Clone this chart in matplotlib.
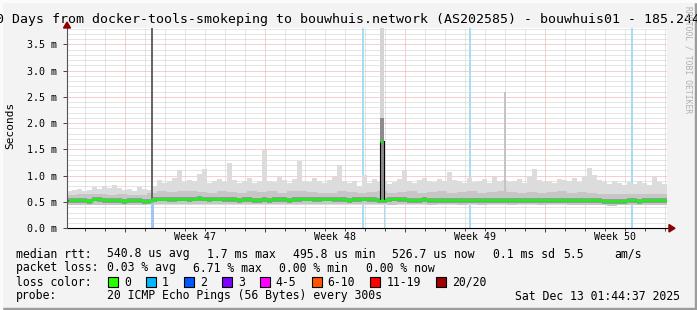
import matplotlib.pyplot as plt
import numpy as np
from matplotlib.patches import Rectangle, Polygon

W, H = 697, 310

title = "30 Days from docker-tools-smokeping to bouwhuis.network (AS202585) - bouwhuis01 - 185.244"
week_labels = ["Week 47", "Week 48", "Week 49", "Week 50"]
week_centers = [6.375, 13.375, 20.375, 27.375]
week_starts = [2.875, 9.875, 16.875, 23.875]

# 6 hour steps over 30 days, values in ms
median = [
    0.54, 0.54, 0.53, 0.53, 0.51, 0.56, 0.55, 0.54, 0.54, 0.53,
    0.53, 0.52, 0.54, 0.53, 0.53, 0.52, 0.52, 0.55, 0.56, 0.56,
    0.55, 0.55, 0.56, 0.56, 0.55, 0.56, 0.57, 0.56, 0.55, 0.56,
    0.56, 0.55, 0.55, 0.55, 0.54, 0.55, 0.55, 0.54, 0.54, 0.55,
    0.54, 0.55, 0.55, 0.55, 0.54, 0.55, 0.55, 0.56, 0.56, 0.55,
    0.55, 0.56, 0.56, 0.55, 0.55, 0.55, 0.54, 0.55, 0.55, 0.56,
    0.55, 0.55, 0.54, 0.54, 0.55, 0.56, 0.55, 0.55, 0.54, 0.54,
    0.54, 0.55, 0.54, 0.54, 0.53, 0.54, 0.54, 0.54, 0.53, 0.53,
    0.54, 0.54, 0.53, 0.54, 0.54, 0.54, 0.53, 0.54, 0.54, 0.54,
    0.53, 0.53, 0.54, 0.54, 0.54, 0.53, 0.54, 0.54, 0.54, 0.53,
    0.54, 0.54, 0.53, 0.54, 0.54, 0.53, 0.53, 0.52, 0.52, 0.51,
    0.52, 0.52, 0.53, 0.53, 0.52, 0.53, 0.53, 0.53, 0.53, 0.53,
]
smoke_hi = [
    0.70, 0.72, 0.74, 0.70, 0.72, 0.78, 0.74, 0.80, 0.76, 0.82,
    0.76, 0.72, 0.74, 0.70, 0.78, 0.74, 0.72, 0.80, 0.92, 0.86,
    0.90, 0.96, 1.10, 0.88, 0.92, 0.90, 1.04, 1.12, 0.86, 0.90,
    0.94, 0.88, 1.24, 0.92, 0.86, 0.90, 0.96, 0.86, 0.90, 1.49,
    0.90, 0.88, 1.00, 0.92, 0.86, 0.94, 1.28, 0.90, 0.88, 0.96,
    0.90, 0.86, 0.92, 0.98, 1.20, 0.90, 0.86, 0.90, 0.80, 1.02,
    0.86, 0.94, 0.88, 0.90, 0.84, 0.88, 0.94, 1.10, 0.90, 0.86,
    0.92, 0.96, 0.90, 0.88, 0.94, 0.90, 1.08, 0.92, 0.90, 0.86,
    0.96, 0.88, 0.90, 0.94, 0.86, 0.98, 0.90, 0.92, 0.88, 0.90,
    0.94, 0.86, 1.00, 1.12, 0.92, 0.88, 0.90, 0.86, 0.94, 0.92,
    0.90, 0.96, 0.88, 1.00, 1.14, 1.02, 0.92, 0.88, 0.84, 0.90,
    0.86, 0.82, 0.88, 0.84, 0.90, 0.86, 0.82, 1.00, 0.88, 0.84,
]
# 12 hour steps
smoke_mid = [
    0.64, 0.66, 0.65, 0.66, 0.64, 0.65, 0.64, 0.63, 0.68, 0.70,
    0.69, 0.70, 0.71, 0.69, 0.68, 0.70, 0.69, 0.68, 0.70, 0.69,
    0.70, 0.68, 0.70, 0.71, 0.69, 0.68, 0.68, 0.70, 0.69, 0.68,
    0.69, 0.70, 0.68, 0.69, 0.70, 0.68, 0.69, 0.70, 0.68, 0.69,
    0.70, 0.68, 0.69, 0.70, 0.69, 0.68, 0.69, 0.68, 0.69, 0.70,
    0.68, 0.69, 0.67, 0.66, 0.66, 0.65, 0.66, 0.66, 0.65, 0.66,
]
smoke_lo = [
    0.45, 0.45, 0.44, 0.45, 0.45, 0.44, 0.45, 0.44, 0.46, 0.46,
    0.46, 0.46, 0.47, 0.46, 0.46, 0.46, 0.46, 0.46, 0.46, 0.46,
    0.46, 0.46, 0.46, 0.47, 0.46, 0.46, 0.46, 0.46, 0.46, 0.46,
    0.46, 0.46, 0.45, 0.46, 0.46, 0.46, 0.45, 0.46, 0.46, 0.45,
    0.46, 0.45, 0.46, 0.46, 0.45, 0.46, 0.46, 0.45, 0.46, 0.46,
    0.45, 0.45, 0.44, 0.44, 0.43, 0.44, 0.44, 0.44, 0.44, 0.44,
]

# single-step events (day, value)
loss_days = [14.8, 20.15, 28.25]
loss2_day = 4.25
spike_day = 4.25
spike2_day = 15.75
spike2_median = 1.66
spike2_dark_top = 2.1
thin_spikes_day = [21.9]
thin_spikes_top = [2.59]

legend_labels = ["0", "1", "2", "3", "4-5", "6-10", "11-19", "20/20"]
legend_colors = ["#26ff00", "#00b8ff", "#0059ff", "#7e00ff", "#ff00ff", "#ff5500", "#ff0000", "#a10000"]

plt.rcParams['font.family'] = ['DejaVu Sans Mono']

fig = plt.figure(figsize=(W / 100, H / 100), dpi=100, facecolor='#f3f3f3')


def px(x, y):
    return x / W, 1 - y / H


top, bot, left, right = 28, 228.3, 67, 667
ax = fig.add_axes([left / W, 1 - bot / H, (right - left) / W, (bot - top) / H])
ax.set_facecolor('white')
ax.set_xlim(0, 30)
ax.set_ylim(0, 3.81)

t6 = 0.125 + 0.25 * np.arange(len(median))
t12 = 0.25 + 0.5 * np.arange(len(smoke_mid))

# grid
ax.set_yticks(np.arange(0, 3.6, 0.5))
ax.set_yticks(np.arange(0, 3.81, 0.1), minor=True)
ax.set_xticks(week_starts)
ax.set_xticks(np.arange(0.875, 30, 1.0), minor=True)
ax.grid(which='minor', color='#cccccc', ls=(0, (1, 1)), lw=0.72, zorder=0)
ax.grid(which='major', color='#f2a0a0', ls=(0, (1, 1)), lw=0.72, zorder=0)
ax.set_axisbelow(True)

ax.set_yticklabels(["%.1f m" % v for v in np.arange(0, 3.6, 0.5)])
ax.set_xticklabels([])
ax.tick_params(axis='y', which='major', length=3, width=0.7, color='#444444', labelsize=7.2, pad=4)
ax.tick_params(axis='y', which='minor', length=0)
ax.tick_params(axis='x', which='major', length=3, width=0.7, color='#444444')
ax.tick_params(axis='x', which='minor', length=2, width=0.7, color='#444444')
for s in ax.spines.values():
    s.set_visible(False)

for d, lab in zip(week_centers, week_labels):
    ax.text(d, -0.17, lab, ha='center', va='center', fontsize=7.2, color='black')

# loss stripes
for d in loss_days:
    ax.axvspan(d - 0.05, d + 0.05, color='#a6dcf4', lw=0, zorder=1)
ax.bar(loss2_day, 0.5, width=0.15, color='#a4c4f4', lw=0, zorder=6)
ax.bar(spike2_day + 0.13, spike2_median - 0.03, width=0.06, color='#a6dcf4', lw=0, zorder=1)

# smoke
ax.bar(t6, np.array(smoke_hi) - 0.44, bottom=0.44, width=0.25, color='#dcdcdc', lw=0, zorder=2)
ax.bar(t12, np.array(smoke_mid) - np.array(smoke_lo), bottom=smoke_lo, width=0.5, color='#c6c6c6', lw=0, zorder=3)
med = np.array(median)
ax.bar(t6, 0.09, bottom=med - 0.05, width=0.25, color='#9a9a9a', lw=0, zorder=4)
ax.bar(t6, 0.04, bottom=med - 0.035, width=0.25, color='#666666', lw=0, zorder=4)
ax.bar(thin_spikes_day, np.array(thin_spikes_top) - 0.6, bottom=0.6, width=0.09, color='#c4c4c4', lw=0, zorder=2)

# spikes
ax.bar(spike_day, 3.81 - 0.53, bottom=0.53, width=0.12, color='#666666', lw=0, zorder=5)
ax.bar(spike2_day, 3.81 - 0.55, bottom=0.55, width=0.2, color='#d4d4d4', lw=0, zorder=5)
ax.bar(spike2_day, spike2_dark_top - 0.55, bottom=0.55, width=0.2, color='#8c8c8c', lw=0, zorder=5)

# median line
ax.step(t6, med, where='mid', color='#333333', lw=0.8, zorder=6)
ax.step(t6, med, where='mid', color='#22ee22', lw=2.0, zorder=7)
ax.plot([spike2_day - 0.08, spike2_day - 0.08, spike2_day + 0.08, spike2_day + 0.08],
        [0.55, spike2_median, spike2_median, 0.55], color='black', lw=0.8, zorder=8)
ax.plot([spike2_day - 0.07, spike2_day + 0.0], [spike2_median, spike2_median], color='#22ee22', lw=1.8, zorder=9)

# axes with arrows
ax.plot([0, 30.2], [0, 0], color='black', lw=0.8, clip_on=False, zorder=10)
ax.plot([0, 0], [0, 3.86], color='#555555', lw=0.8, clip_on=False, zorder=10)
fig.patches.append(Polygon([px(669, 224.5), px(669, 232), px(675, 228.3)], closed=True,
                           transform=fig.transFigure, color='#8b0000'))
fig.patches.append(Polygon([px(63.5, 28), px(70.5, 28), px(67, 22)], closed=True,
                           transform=fig.transFigure, color='#8b0000'))

# title and labels
fig.text(*px(344, 19), title, ha='center', va='center', fontsize=9.57)
fig.text(*px(10, 125), "Seconds", rotation=90, ha='center', va='center', fontsize=8.0)
fig.text(*px(688, 60), "RRDTOOL / TOBI OETIKER", rotation=-90, ha='center', va='center',
         fontsize=5.8, color='#b0b0b0')

fs = 8.3
rows = [
    (254, [(16, "median rtt:"), (107, "540.8 us avg"), (207, "1.7 ms max"), (293, "495.8 us min"),
           (392, "526.7 us now"), (493, "0.1 ms sd"), (563, "5.5"), (614, "am/s")]),
    (268, [(16, "packet loss:"), (107, "0.03 % avg"), (193, "6.71 % max"), (279, "0.00 % min"),
           (366, "0.00 % now")]),
    (296, [(16, "probe:"), (107, "20 ICMP Echo Pings (56 Bytes) every 300s")]),
]
for y, items in rows:
    for x, s in items:
        fig.text(*px(x, y), s, ha='left', va='center', fontsize=fs)
fig.text(*px(680, 296), "Sat Dec 13 01:44:37 2025", ha='right', va='center', fontsize=fs)

fig.text(*px(16, 282), "loss color:", ha='left', va='center', fontsize=fs)
cw = 6.95
xs = 108
for lab, c in zip(legend_labels, legend_colors):
    fig.patches.append(Rectangle(px(xs, 287), 10 / W, 10 / H, transform=fig.transFigure,
                                 facecolor=c, edgecolor='black', lw=0.8))
    fig.text(*px(xs + 16, 282), lab, ha='left', va='center', fontsize=fs)
    xs = xs + 16 + len(lab) * cw + 15

# frame
fig.patches.append(Rectangle((0, 0), 1, 2 / H, transform=fig.transFigure, color='#9c9c9c'))
fig.patches.append(Rectangle((1 - 2 / W, 0), 2 / W, 1, transform=fig.transFigure, color='#9c9c9c'))
fig.patches.append(Rectangle((0, 1 - 2 / H), 1, 2 / H, transform=fig.transFigure, color='#fbfbfb'))
fig.patches.append(Rectangle((0, 0), 2 / W, 1, transform=fig.transFigure, color='#fbfbfb'))

fig.savefig('out.png', dpi=100, facecolor=fig.get_facecolor())
